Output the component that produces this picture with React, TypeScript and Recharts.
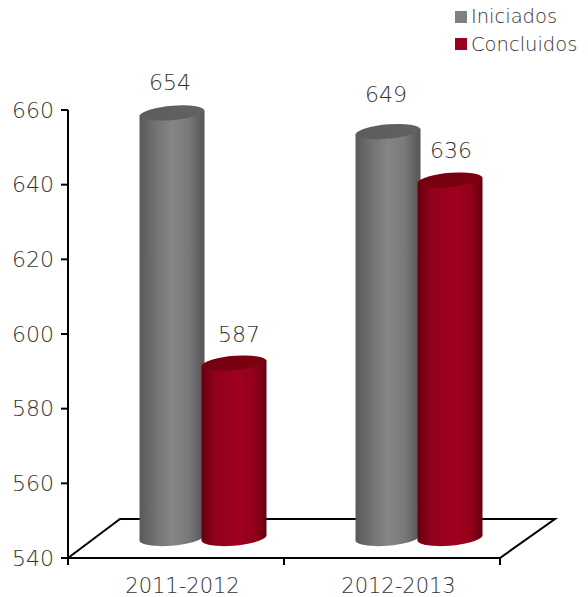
import { Bar, BarChart, Legend, XAxis, YAxis, usePlotArea } from "recharts";

const categories = ["2011-2012", "2012-2013"];
const iniciados = [654, 649];
const concluidos = [587, 636];
const yTicks = [540, 560, 580, 600, 620, 640, 660];

const data = categories.map((c, i) => ({ periodo: c, Iniciados: iniciados[i], Concluidos: concluidos[i] }));

const FONT = "'DejaVu Sans', sans-serif";
const WEIGHT = 200;
const TEXT = "#333333";

// fake 3d depth of the floor
const DEPTH_X = 53;
const DEPTH_Y = 39;
const RY = 8;
const TILT = 2.5;

function Cylinder(props: any) {
  const { x, y, width, height, side, top } = props;
  const left = x + DEPTH_X / 2;
  const right = left + width;
  const topY = y - DEPTH_Y / 2;
  const botY = y + height - DEPTH_Y / 2;
  const rx = width / 2 + 0.3;
  const body =
    `M${left},${topY + TILT} L${right},${topY - TILT} L${right},${botY - TILT} ` +
    `A${rx},${RY} -5 0 1 ${left},${botY + TILT} Z`;
  const cap =
    `M${left},${topY + TILT} A${rx},${RY} -5 0 1 ${right},${topY - TILT} ` +
    `A${rx},${RY} -5 0 1 ${left},${topY + TILT} Z`;
  return (
    <g>
      <path d={body} fill={side} />
      <path d={cap} fill={top} />
    </g>
  );
}

function valueLabel(nudge: { dx: number; dy: number }[]) {
  return (p: any) => (
    <text
      x={p.x + DEPTH_X / 2 + p.width / 2 + nudge[p.index].dx}
      y={p.y - 42 + nudge[p.index].dy}
      textAnchor="middle"
      fontFamily={FONT}
      fontWeight={WEIGHT}
      fontSize={22}
      fill={TEXT}
    >
      {p.value}
    </text>
  );
}

function Floor() {
  const plot = usePlotArea();
  if (!plot) return null;
  const { x, y, width, height } = plot;
  const b = y + height;
  const r = x + width;
  return (
    <polyline
      points={`${x},${b} ${x + DEPTH_X - 1},${b - DEPTH_Y} ${r + DEPTH_X + 2},${b - DEPTH_Y} ${r},${b}`}
      fill="none"
      stroke="#000"
      strokeWidth={2}
    />
  );
}

function CategoryTick(props: any) {
  const { x, y, payload } = props;
  const half = 108;
  return (
    <g>
      <line x1={x - half} x2={x - half} y1={y - 8} y2={y - 1} stroke="#000" strokeWidth={2} />
      <line x1={x + half} x2={x + half} y1={y - 8} y2={y - 1} stroke="#000" strokeWidth={2} />
      <text x={x + 6.5} y={y + 27} textAnchor="middle" fontFamily={FONT} fontWeight={WEIGHT} fontSize={21} fill={TEXT}>
        {payload.value}
      </text>
    </g>
  );
}

function LegendList({ payload }: any) {
  return (
    <div style={{ fontFamily: FONT, fontWeight: WEIGHT, fontSize: 19.5, color: TEXT, lineHeight: "27.5px" }}>
      {(payload || []).map((e: any) => (
        <div key={e.value} style={{ display: "flex", alignItems: "center" }}>
          <span style={{ width: 12, height: 12, background: e.color, marginRight: 4, display: "inline-block" }} />
          {e.value}
        </div>
      ))}
    </div>
  );
}

export default function App() {
  return (
    <div style={{ position: "absolute", left: 0, top: 0, width: 588, height: 597 }}>
      <BarChart
        width={588}
        height={597}
        data={data}
        margin={{ top: 110, right: 88, bottom: 0, left: 0 }}
        barSize={65}
        barGap={-3}
      >
        <defs>
          <linearGradient id="greySide" x1="0" x2="1" y1="0" y2="0">
            <stop offset="0" stopColor="#595959" />
            <stop offset="0.3" stopColor="#777777" />
            <stop offset="0.5" stopColor="#858585" />
            <stop offset="0.75" stopColor="#7a7a7a" />
            <stop offset="1" stopColor="#555555" />
          </linearGradient>
          <linearGradient id="redSide" x1="0" x2="1" y1="0" y2="0">
            <stop offset="0" stopColor="#650012" />
            <stop offset="0.2" stopColor="#8f001c" />
            <stop offset="0.55" stopColor="#a0001f" />
            <stop offset="0.82" stopColor="#93001b" />
            <stop offset="1" stopColor="#650010" />
          </linearGradient>
          <linearGradient id="greyTop" x1="0" x2="1" y1="0" y2="0">
            <stop offset="0" stopColor="#5c5c5c" />
            <stop offset="1" stopColor="#626262" />
          </linearGradient>
          <linearGradient id="redTop" x1="0" x2="1" y1="0" y2="0">
            <stop offset="0" stopColor="#770010" />
            <stop offset="1" stopColor="#7c0010" />
          </linearGradient>
        </defs>
        <Floor />
        <XAxis
          dataKey="periodo"
          height={39}
          axisLine={{ stroke: "#000", strokeWidth: 2 }}
          tickLine={false}
          tick={<CategoryTick />}
          interval={0}
        />
        <YAxis
          domain={[540, 660]}
          ticks={yTicks}
          width={68}
          axisLine={{ stroke: "#000", strokeWidth: 2 }}
          tickLine={{ stroke: "#000", strokeWidth: 2 }}
          tickSize={7}
          tickMargin={7}
          tick={{ fontFamily: FONT, fontWeight: WEIGHT, fontSize: 22, fill: TEXT }}
        />
        <Legend
          layout="vertical"
          align="center"
          verticalAlign="middle"
          content={<LegendList />}
          itemSorter={null}
          wrapperStyle={{ left: 455, top: 3, width: 130 }}
        />
        <Bar
          dataKey="Iniciados"
          fill="#808080"
          isAnimationActive={false}
          shape={(p: any) => <Cylinder {...p} side="url(#greySide)" top="url(#greyTop)" />}
          label={valueLabel([{ dx: -2, dy: 0 }, { dx: -2, dy: -7 }])}
        />
        <Bar
          dataKey="Concluidos"
          fill="#9b001c"
          isAnimationActive={false}
          shape={(p: any) => <Cylinder {...p} side="url(#redSide)" top="url(#redTop)" />}
          label={valueLabel([{ dx: 5, dy: 1 }, { dx: 1, dy: 0 }])}
        />
      </BarChart>
    </div>
  );
}
